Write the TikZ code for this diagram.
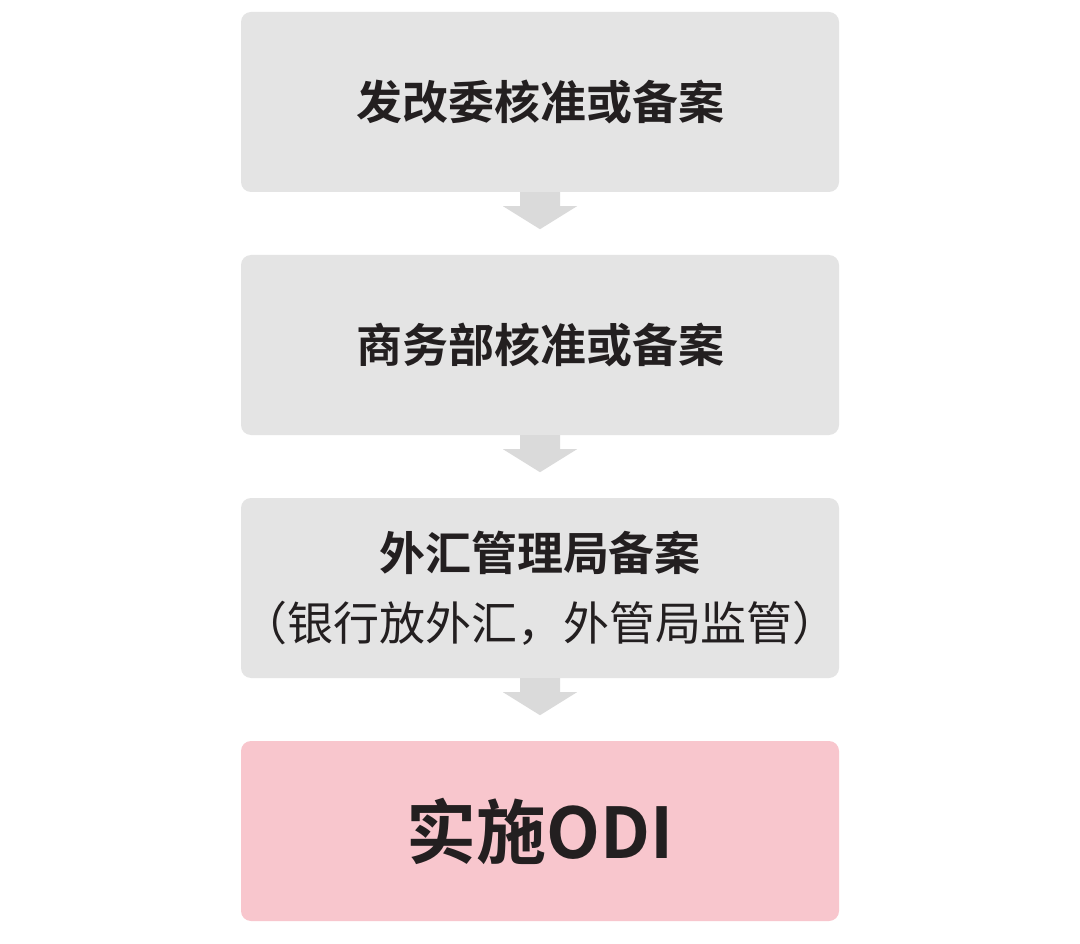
\documentclass[tikz,border=0pt]{standalone}
\usepackage{fontspec}
\newfontfamily\cjkb{Noto Sans CJK SC Bold}
\newfontfamily\cjkr{Noto Sans CJK SC}
\definecolor{boxg}{HTML}{E4E4E4}
\definecolor{boxp}{HTML}{F8C6CD}
\definecolor{arr}{HTML}{DADADA}
\definecolor{txt}{HTML}{231F20}
\begin{document}
\begin{tikzpicture}[x=1pt,y=-1pt,
  stepbox/.style={fill=boxg,rounded corners=10pt,minimum width=598pt,minimum height=180pt,inner sep=0pt,text=txt,align=center},
  arrowsh/.style={fill=arr}]
\useasboundingbox (0,0) rectangle (1080,944);
\fill[white] (0,0) rectangle (1080,944);
\node[stepbox] (a) at (540,102) {\cjkb\fontsize{46}{52}\selectfont 发改委核准或备案};
\node[stepbox] (b) at (540,345) {\cjkb\fontsize{46}{52}\selectfont 商务部核准或备案};
\node[stepbox,font=\fontsize{46}{70}\selectfont] (c) at (540,588) {\cjkb 外汇管理局备案\\\cjkr （银行放外汇，外管局监管）};
\node[stepbox,fill=boxp] (d) at (540,831) {\cjkb\fontsize{70}{76}\selectfont 实施ODI};
\foreach \u in {a,b,c}{
  \fill[arrowsh] (\u.south) ++(-20,0) -- ++(0,14) -- ++(-17,0) -- ++(37,23) -- ++(37,-23) -- ++(-17,0) -- ++(0,-14) -- cycle;
}
\end{tikzpicture}
\end{document}
